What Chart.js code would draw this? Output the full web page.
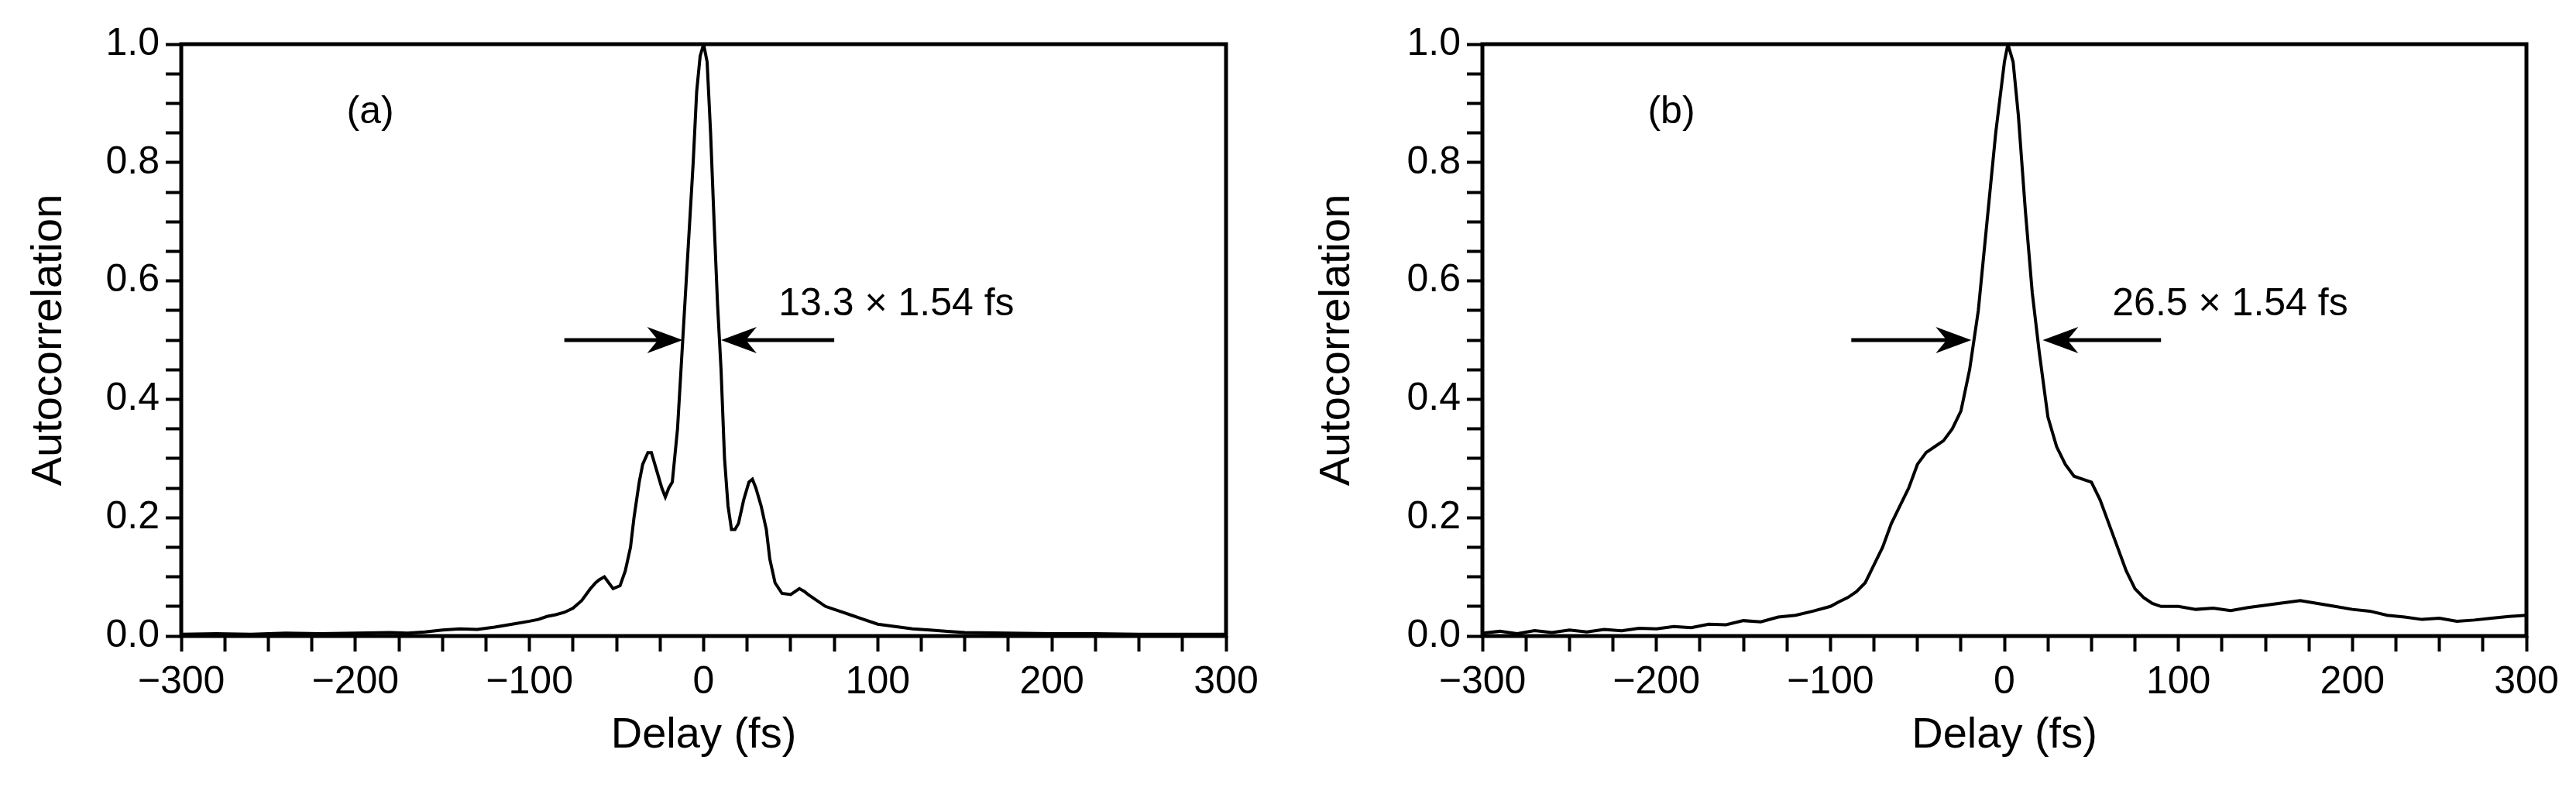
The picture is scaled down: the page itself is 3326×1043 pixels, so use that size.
<!DOCTYPE html>
<html>
<head>
<meta charset="utf-8">
<script src="https://cdn.jsdelivr.net/npm/chart.js@4/dist/chart.umd.min.js"></script>
<style>
  body { margin: 0; background: #fff; }
  .panel { position: absolute; top: 0; width: 1663px; height: 1043px; }
</style>
</head>
<body>
<div class="panel" style="left:0"><canvas id="chartA"></canvas></div>
<div class="panel" style="left:1663px"><canvas id="chartB"></canvas></div>
<script>
// Panel (a) trace
const delayA = [-300,-280,-260,-240,-220,-200,-180,-170,-160,-150,-140,-130,-120,-110,-100,-95,-90,-85,-80,-75,-70,-65,-62,-60,-57,-55,-52,-48,-45,-42,-40,-37,-35,-32,-30,-27,-24,-22,-20,-18,-15,-12,-9,-6,-4,-2,0,2,4,6,8,10,12,14,16,18,20,23,26,28,30,33,36,38,41,45,50,55,58,60,65,70,75,80,85,90,100,110,120,130,140,150,175,200,225,250,275,300];
const autoA  = [0.003,0.004,0.003,0.005,0.004,0.005,0.006,0.005,0.007,0.01,0.012,0.011,0.015,0.02,0.025,0.028,0.033,0.036,0.04,0.047,0.06,0.08,0.09,0.095,0.1,0.092,0.08,0.085,0.11,0.15,0.2,0.26,0.29,0.31,0.31,0.28,0.25,0.235,0.25,0.26,0.35,0.5,0.65,0.8,0.92,0.98,1.0,0.97,0.85,0.7,0.56,0.45,0.3,0.22,0.18,0.18,0.19,0.23,0.26,0.265,0.25,0.22,0.18,0.13,0.09,0.072,0.07,0.08,0.075,0.07,0.06,0.05,0.045,0.04,0.035,0.03,0.02,0.016,0.012,0.01,0.008,0.006,0.005,0.004,0.004,0.003,0.003,0.003];

// Panel (b) trace
const delayB = [-300,-290,-280,-270,-260,-250,-240,-230,-220,-210,-200,-190,-180,-170,-160,-150,-140,-130,-120,-110,-100,-95,-90,-85,-80,-75,-70,-65,-60,-55,-50,-45,-40,-35,-30,-25,-20,-15,-10,-5,0,2,5,8,12,16,20,25,30,35,40,45,50,55,60,65,70,75,80,85,90,100,110,120,130,140,150,160,170,180,190,200,210,220,230,240,250,260,270,280,290,300];
const autoB  = [0.005,0.008,0.004,0.009,0.006,0.01,0.007,0.011,0.009,0.013,0.012,0.016,0.014,0.02,0.019,0.026,0.024,0.032,0.035,0.042,0.05,0.058,0.065,0.075,0.09,0.12,0.15,0.19,0.22,0.25,0.29,0.31,0.32,0.33,0.35,0.38,0.45,0.55,0.7,0.85,0.97,1.0,0.97,0.88,0.72,0.58,0.48,0.37,0.32,0.29,0.27,0.265,0.26,0.23,0.19,0.15,0.11,0.08,0.065,0.055,0.05,0.05,0.045,0.047,0.043,0.048,0.052,0.056,0.06,0.055,0.05,0.045,0.042,0.035,0.032,0.028,0.03,0.025,0.027,0.03,0.033,0.035];

// Annotations: [label, tagX, tagY, leftArrowFrom, leftArrowTo, rightArrowFrom, rightArrowTo, textX, textY, fwhmText]
const annotA = ['(a)', -205, 0.885, -80, -12, 75, 10, 43, 0.56, '13.3 \u00d7 1.54 fs'];
const annotB = ['(b)', -205, 0.885, -88, -19, 90, 22, 62, 0.56, '26.5 \u00d7 1.54 fs'];

const FONT = 'Liberation Sans, Arial, sans-serif';

function isMajor(v, step) {
  return Math.abs(v / step - Math.round(v / step)) < 1e-6;
}

const framePlugin = {
  id: 'frame',
  afterDraw(chart, args, opts) {
    const { ctx, chartArea: a, scales: { x, y } } = chart;
    const an = opts.annot;
    ctx.save();
    ctx.strokeStyle = '#000';
    ctx.lineWidth = 5;
    ctx.strokeRect(a.left, a.top, a.right - a.left, a.bottom - a.top);
    ctx.fillStyle = '#000';
    ctx.font = '50px ' + FONT;
    ctx.textBaseline = 'middle';
    ctx.fillText(an[0], x.getPixelForValue(an[1]), y.getPixelForValue(an[2]));
    ctx.fillText(an[9], x.getPixelForValue(an[7]), y.getPixelForValue(an[8]));
    const yy = y.getPixelForValue(0.5);
    function arrow(from, to) {
      const x0 = x.getPixelForValue(from), x1 = x.getPixelForValue(to);
      const dir = Math.sign(x1 - x0);
      ctx.lineWidth = 5;
      ctx.beginPath();
      ctx.moveTo(x0, yy);
      ctx.lineTo(x1 - dir * 20, yy);
      ctx.stroke();
      ctx.beginPath();
      ctx.moveTo(x1, yy);
      ctx.lineTo(x1 - dir * 46, yy - 17);
      ctx.lineTo(x1 - dir * 32, yy);
      ctx.lineTo(x1 - dir * 46, yy + 17);
      ctx.closePath();
      ctx.fill();
    }
    arrow(an[3], an[4]);
    arrow(an[5], an[6]);
    ctx.restore();
  }
};

function makeChart(id, xs, ys, annot, yWidth, padRight) {
  new Chart(document.getElementById(id), {
    type: 'line',
    data: {
      datasets: [{
        data: xs.map((v, i) => ({ x: v, y: ys[i] })),
        borderColor: '#000',
        borderWidth: 4,
        pointRadius: 0,
        tension: 0
      }]
    },
    options: {
      responsive: true,
      maintainAspectRatio: false,
      animation: false,
      layout: { padding: { top: 57, right: padRight, left: 0, bottom: 0 } },
      plugins: { legend: { display: false }, tooltip: { enabled: false }, frame: { annot } },
      scales: {
        x: {
          type: 'linear', min: -300, max: 300,
          afterFit(s) { s.height = 222; },
          border: { display: false },
          grid: { drawOnChartArea: false, tickColor: '#000', tickWidth: 4, tickLength: 20 },
          ticks: {
            stepSize: 25, color: '#000', padding: 10, maxRotation: 0, autoSkip: false,
            font: { family: FONT, size: 50 },
            callback: v => isMajor(v, 100) ? (v < 0 ? '\u2212' + Math.abs(v) : String(v)) : ''
          },
          title: { display: true, text: 'Delay (fs)', color: '#000', font: { family: FONT, size: 56 }, padding: { top: 0, bottom: 60 } }
        },
        y: {
          min: 0, max: 1,
          afterFit(s) { s.width = yWidth; },
          border: { display: false },
          grid: { drawOnChartArea: false, tickColor: '#000', tickWidth: 4, tickLength: 20 },
          ticks: {
            stepSize: 0.05, color: '#000', padding: 8, autoSkip: false,
            font: { family: FONT, size: 50 },
            callback: v => isMajor(v, 0.2) ? v.toFixed(1) : ''
          },
          title: { display: true, text: 'Autocorrelation', color: '#000', font: { family: FONT, size: 56 }, padding: { top: 30, bottom: 0 } }
        }
      }
    },
    plugins: [framePlugin]
  });
}

makeChart('chartA', delayA, autoA, annotA, 234, 80);
makeChart('chartB', delayB, autoB, annotB, 251, 64);
</script>
</body>
</html>
